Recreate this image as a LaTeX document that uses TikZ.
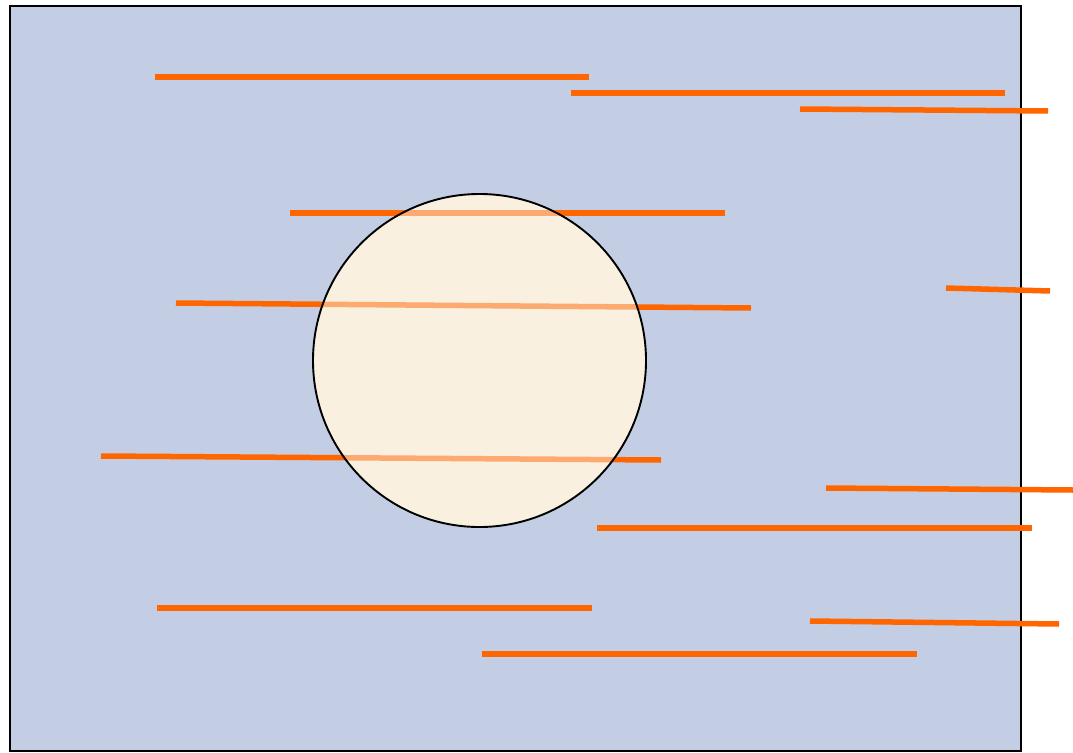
\documentclass[tikz,border=0pt]{standalone}
\definecolor{bgblue}{HTML}{C3CEE5}
\definecolor{cream}{HTML}{F9F0E0}
\definecolor{orng}{HTML}{FF6600}
\tikzset{
  ray/.style={draw=orng, line width=5.5pt},
  frame/.style={draw=black, line width=1.6pt, fill=bgblue},
  disc/.style={draw=black, line width=1.9pt}
}
\begin{document}
\begin{tikzpicture}[x=1pt,y=-1pt]
\useasboundingbox (0,0) rectangle (1073,752);
\draw[frame] (10,6) rectangle (1021,751);
% endpoints
\coordinate (a1) at (155,77);  \coordinate (b1) at (589,77);
\coordinate (a2) at (571,93);  \coordinate (b2) at (1005,93);
\coordinate (a3) at (800,109); \coordinate (b3) at (1048,111);
\coordinate (a4) at (290,213); \coordinate (b4) at (725,213);
\coordinate (a5) at (176,303); \coordinate (b5) at (751,308);
\coordinate (a6) at (946,288); \coordinate (b6) at (1050,291);
\coordinate (a7) at (101,456); \coordinate (b7) at (661,460);
\coordinate (a8) at (826,488); \coordinate (b8) at (1073,490);
\coordinate (a9) at (597,528); \coordinate (b9) at (1032,528);
\coordinate (a10) at (157,608); \coordinate (b10) at (592,608);
\coordinate (a11) at (810,621); \coordinate (b11) at (1059,624);
\coordinate (a12) at (482,654); \coordinate (b12) at (917,654);
\coordinate (c) at (479.5,360.5);
\foreach \i in {1,...,12} {\draw[ray] (a\i) -- (b\i);}
\fill[cream] (c) circle[radius=166.5];
\begin{scope}
  \clip (c) circle[radius=166.5];
  \foreach \i in {4,5,7} {\draw[ray, draw opacity=0.5] (a\i) -- (b\i);}
\end{scope}
\draw[disc] (c) circle[radius=166.5];
\end{tikzpicture}
\end{document}
